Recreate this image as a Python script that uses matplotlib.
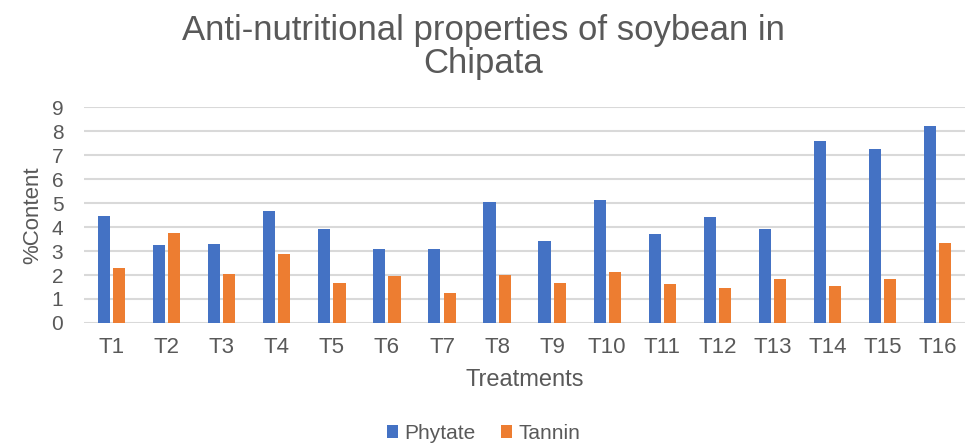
import matplotlib.pyplot as plt
import numpy as np

plt.rcParams['font.family'] = ['Liberation Sans', 'DejaVu Sans']

treatments = ['T1', 'T2', 'T3', 'T4', 'T5', 'T6', 'T7', 'T8',
              'T9', 'T10', 'T11', 'T12', 'T13', 'T14', 'T15', 'T16']
phytate = [4.47, 3.24, 3.29, 4.65, 3.92, 3.10, 3.10, 5.04,
           3.43, 5.12, 3.70, 4.42, 3.91, 7.59, 7.24, 8.20]
tannin = [2.30, 3.74, 2.04, 2.87, 1.67, 1.95, 1.26, 1.99,
          1.67, 2.13, 1.63, 1.44, 1.83, 1.54, 1.83, 3.34]

grey = '#595959'
fig = plt.figure(figsize=(9.67, 4.43), dpi=100)
ax = fig.add_axes([0.087, 0.271, 0.911, 0.487])

x = np.arange(len(treatments))
w = 0.22
ax.bar(x - 0.138, phytate, w, color='#4472C4', label='Phytate', zorder=3)
ax.bar(x + 0.138, tannin, w, color='#ED7D31', label='Tannin', zorder=3)

ax.set_xlim(-0.5, len(treatments) - 0.5)
ax.set_ylim(0, 9)
ax.set_yticks(range(0, 10))
ax.set_xticks(x)
ax.set_xticklabels(treatments)
ax.grid(axis='y', color='#d9d9d9', linewidth=1.5, zorder=0)
for s in ax.spines.values():
    s.set_visible(False)
ax.tick_params(length=0, colors=grey)
ax.tick_params(axis='y', labelsize=15, pad=15)
ax.tick_params(axis='x', labelsize=16, pad=10)

ax.set_xlabel('Treatments', fontsize=17, color=grey, labelpad=8)
ax.set_ylabel('%Content', fontsize=16, color=grey, labelpad=6)

fig.text(0.5, 0.895, 'Anti-nutritional properties of soybean in\nChipata',
         ha='center', va='center', fontsize=25, color=grey, linespacing=1.0)

fig.legend(loc='center', bbox_to_anchor=(0.5, 0.022), ncol=2, frameon=False,
           fontsize=15, handlelength=0.55, handleheight=0.55, handletextpad=0.3,
           columnspacing=1.2, labelcolor=grey)

fig.savefig('out.png')
